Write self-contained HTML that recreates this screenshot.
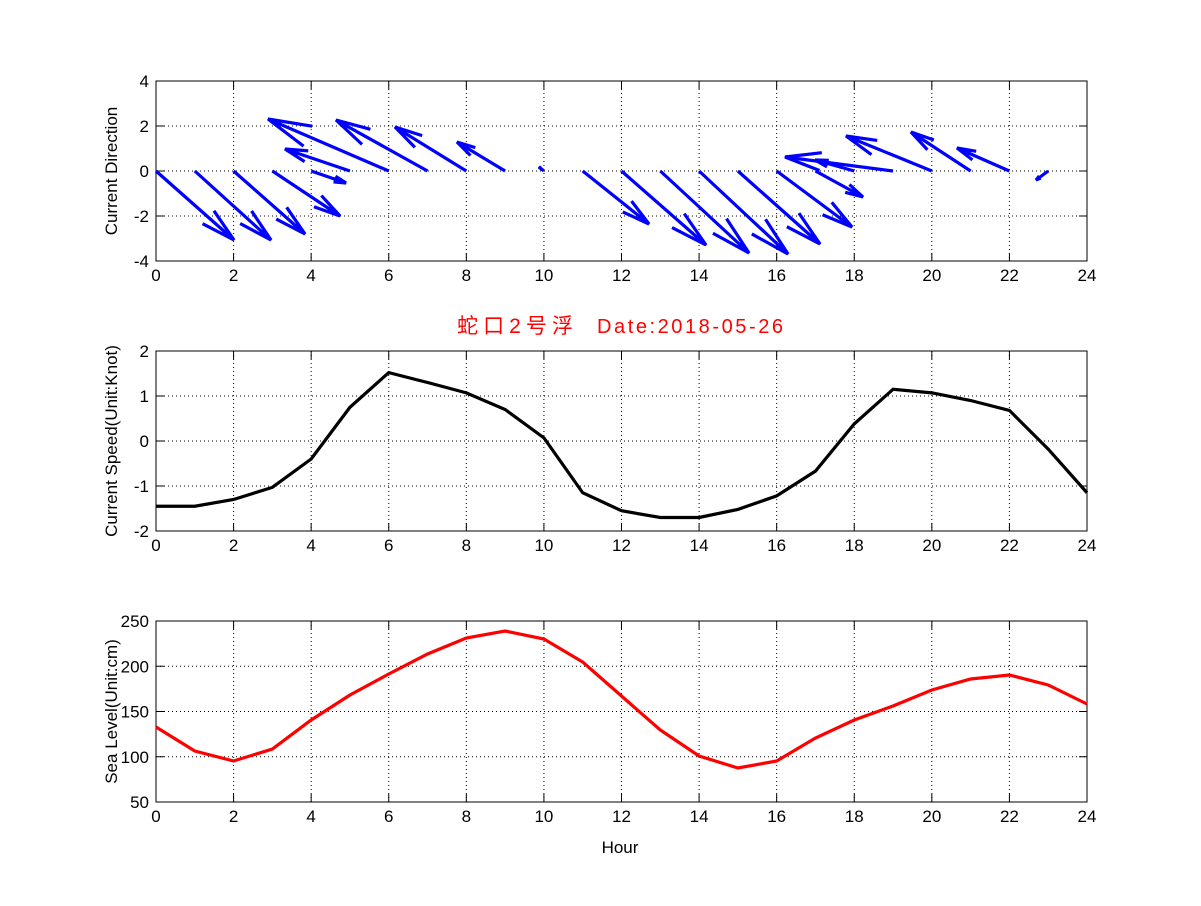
<!DOCTYPE html>
<html><head><meta charset="utf-8"><style>
body{margin:0;background:#fff}
svg text{font-family:"Liberation Sans","Noto Sans CJK SC",sans-serif;font-size:17px}
</style></head><body>
<svg id="s" width="1201" height="901" xmlns="http://www.w3.org/2000/svg"></svg>
<script>
const s=document.getElementById('s');
let h='';
const X=v=>156+v*(931/24);
function axes(y0,y1,vmin,vmax,step,label){
  const Y=v=>y1-(v-vmin)/(vmax-vmin)*(y1-y0);
  h+=`<rect x="156" y="${y0}" width="931" height="${y1-y0}" fill="#fff"/>`;
  for(let t=0;t<=24;t+=2){const x=X(t);
    if(t>0&&t<24)h+=`<line x1="${x}" y1="${y0}" x2="${x}" y2="${y1}" stroke="#000" stroke-dasharray="1,3"/>`;
    h+=`<line x1="${x}" y1="${y1}" x2="${x}" y2="${y1-8}" stroke="#000"/><line x1="${x}" y1="${y0}" x2="${x}" y2="${y0+8}" stroke="#000"/>`;
    h+=`<text x="${x}" y="${y1+20}" text-anchor="middle">${t}</text>`;}
  for(let v=vmin;v<=vmax+1e-9;v+=step){const y=Y(v);
    if(v>vmin&&v<vmax)h+=`<line x1="156" y1="${y}" x2="1087" y2="${y}" stroke="#000" stroke-dasharray="1,3"/>`;
    h+=`<line x1="156" y1="${y}" x2="164" y2="${y}" stroke="#000"/><line x1="1079" y1="${y}" x2="1087" y2="${y}" stroke="#000"/>`;
    h+=`<text x="149" y="${y+6}" text-anchor="end">${v}</text>`;}
  h+=`<rect x="156" y="${y0}" width="931" height="${y1-y0}" fill="none" stroke="#000"/>`;
  h+=`<text transform="translate(117,${(y0+y1)/2}) rotate(-90)" text-anchor="middle">${label}</text>`;
  return Y;
}
axes(81,261,-4,4,2,'Current Direction');
const arr=[[0,234,240],[1,271,240],[2,305,234],[3,340,216],[4,346,183],[5,285,149],[6,268,119],[7,336,120],[8,395,127],[9,457,142],[10,539,167],[11,649,224],[12,706,245],[13,749,253],[14,788,254],[15,820,244],[16,852,227],[17,863,197],[18,815,160],[19,785,157],[20,846,136],[21,911,132],[22,957,148],[23,1036,180]];
for(const [t,tx,ty] of arr){const x=X(t),y=171;const u=tx-x,v=ty-y;const a=0.33,b=0.25;
  const p1=[tx-a*(u+b*v),ty-a*(v-b*u)],p2=[tx-a*(u-b*v),ty-a*(v+b*u)];
  h+=`<path d="M${x},${y}L${tx},${ty}M${p1}L${tx},${ty}L${p2}" stroke="#0000ff" stroke-width="3.2" fill="none" stroke-linejoin="miter"/>`;}
const Y2=axes(351,531,-2,2,1,'Current Speed(Unit:Knot)');
const sp=[-1.45,-1.45,-1.3,-1.03,-0.4,0.75,1.52,1.3,1.07,0.7,0.07,-1.15,-1.55,-1.7,-1.7,-1.52,-1.22,-0.67,0.38,1.15,1.07,0.9,0.68,-0.18,-1.15];
h+=`<polyline points="${sp.map((v,i)=>X(i)+','+Y2(v)).join(' ')}" fill="none" stroke="#000" stroke-width="3.2"/>`;
h+=`<text x="457" y="333" fill="#ff0000" textLength="116" style="font-size:21px">蛇口2号浮</text>`;
h+=`<text x="597" y="333" fill="#ff0000" textLength="186" style="font-size:20px">Date:2018-05-26</text>`;
axes(621,802,50,250,50,'Sea Level(Unit:cm)');
const sl=[727,751,761,749,720,695,674,654,638,631,639,662,696,730,756,768,761,738,720,706,690,679,675,685,704];
h+=`<polyline points="${sl.map((y,i)=>X(i)+','+y).join(' ')}" fill="none" stroke="#ff0000" stroke-width="3.2"/>`;
h+=`<text x="620" y="853" text-anchor="middle">Hour</text>`;
s.innerHTML=h;
</script>
</body></html>
